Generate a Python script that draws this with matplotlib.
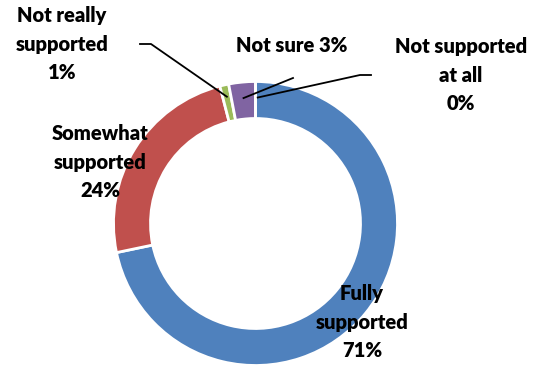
import numpy as np
import matplotlib
matplotlib.use("Agg")
import matplotlib.pyplot as plt

categories = ["Fully supported", "Somewhat supported", "Not really supported",
              "Not sure", "Not supported at all"]
values = [71, 24, 1, 3, 0]
labels = ["Fully\nsupported\n71%", "Somewhat\nsupported\n24%", "Not really\nsupported\n1%",
          "Not sure 3%", "Not supported\nat all\n0%"]
colors = ["#4F81BD", "#C0504D", "#9BBB59", "#8064A2", "#4BACC6"]

W, H = 542, 367
fig = plt.figure(figsize=(W / 100, H / 100), dpi=100)
ax = fig.add_axes([0, 0, 1, 1])

cx, cy, R = 255.5, H - 223.5, 142
wedges, _ = ax.pie(values, colors=colors, startangle=90, counterclock=False,
                   center=(cx, cy), radius=R, frame=True,
                   wedgeprops=dict(width=37, edgecolor="white", linewidth=2))
ax.set_xlim(0, W)
ax.set_ylim(0, H)
ax.set_aspect("equal")
ax.axis("off")

font = dict(family=["Lato", "DejaVu Sans"], fontweight="heavy", fontsize=14.5,
            ha="center", va="center", linespacing=1.62, color="black")

# label positions (pixel layout, y from top)
label_pos = [(362, 322), (100, 162), (62, 44), (292, 45), (461, 75)]
for lab, (x, y) in zip(labels, label_pos):
    ax.text(x, H - y, lab, **font)


def anchor(w, r=127):
    mid = np.deg2rad((w.theta1 + w.theta2) / 2)
    return cx + r * np.cos(mid), cy + r * np.sin(mid)


# leader lines for the small slices
ax_g = anchor(wedges[2], 130)
ax.plot([140, 151, ax_g[0]], [H - 44, H - 44, ax_g[1]], color="black", lw=1.3)
ax_p = anchor(wedges[3], 126)
ax.plot([293, ax_p[0]], [H - 78, ax_p[1]], color="black", lw=1.3)
a0 = wedges[4]
t0 = np.deg2rad(a0.theta1 - 1.0)
ax.plot([371, 360, cx + 126 * np.cos(t0)], [H - 75, H - 75, cy + 126 * np.sin(t0)],
        color="black", lw=1.3)

fig.savefig("out.png", dpi=100, facecolor="white")
